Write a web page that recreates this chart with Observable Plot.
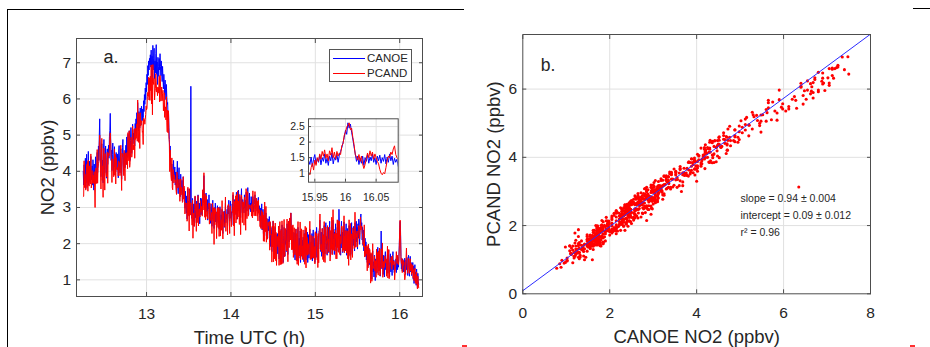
<!DOCTYPE html>
<html>
<head>
<meta charset="utf-8">
<script src="https://cdn.jsdelivr.net/npm/d3@7"></script>
<script src="https://cdn.jsdelivr.net/npm/@observablehq/plot@0.6"></script>
<style>
  body { margin: 0; background: #fff; }
  #wrap { position: relative; width: 930px; height: 347px; overflow: hidden; background: #fff;
          font-family: "Liberation Sans", Arial, Helvetica, sans-serif; }
</style>
</head>
<body>
<div id="wrap"></div>
<script>
// ---------------- data ----------------
const startHour = 12.25;     // first sample, UTC hour
const stepHour = 0.005;      // sampling interval, hours
// NO2 in ppbv x 100
const canoeCenti = [
400,362,418,371,395,436,352,389,447,368,410,381,455,362,402,428,371,395,441,376,
388,415,362,432,395,348,420,386,365,440,402,378,425,452,396,418,470,430,498,545,
462,418,385,440,476,402,431,368,452,488,415,396,442,470,405,381,437,462,419,448,
472,436,495,512,560,488,430,458,402,446,478,421,390,445,468,412,436,399,452,427,
405,448,423,382,456,471,418,396,440,462,412,378,431,465,488,420,402,451,436,410,
448,472,420,495,465,438,502,478,445,512,468,430,485,521,472,450,498,530,476,505,
488,515,470,532,505,545,498,562,528,590,548,512,565,538,520,575,552,528,580,560,
540,572,548,595,565,612,585,630,598,645,620,668,640,692,665,705,680,712,695,722,
688,735,662,718,645,748,680,712,740,655,705,672,725,750,668,702,640,715,690,662,
712,680,725,690,664,705,672,648,690,655,628,668,640,612,652,625,598,640,605,585,
590,548,565,520,488,452,470,425,410,388,420,392,368,405,430,378,395,412,362,398,
372,345,395,428,360,338,382,410,352,368,330,392,356,342,375,318,360,385,336,352,
322,298,345,310,285,332,268,305,352,290,318,276,338,302,284,635,312,270,296,325,
285,262,310,248,295,330,272,305,258,318,290,268,335,298,276,312,255,302,326,280,
298,325,280,342,312,355,388,332,295,318,276,340,305,288,322,265,310,296,335,282,
302,275,256,310,288,248,295,320,268,285,242,298,276,312,260,288,245,272,305,266,
258,285,240,272,302,255,238,280,266,295,248,228,275,262,290,245,270,312,258,282,
268,295,250,305,282,320,275,262,298,318,270,288,252,310,292,335,278,300,265,322,
295,318,280,342,305,268,325,290,348,312,285,330,298,272,315,352,300,285,322,296,
310,285,335,298,320,275,342,308,290,325,355,302,280,318,340,295,312,288,330,305,
315,298,330,305,288,322,310,335,296,318,302,325,290,312,300,328,285,305,278,262,
298,245,282,310,238,265,295,228,275,250,302,235,258,285,222,270,248,215,268,236,
240,275,205,258,192,245,222,178,238,198,262,185,228,170,215,245,175,225,162,205,
228,172,210,248,158,195,235,150,205,240,168,252,198,178,148,222,245,185,165,232,
198,238,178,255,215,170,242,262,205,248,270,232,285,250,208,245,185,232,175,215,
230,175,155,218,240,168,205,152,225,245,180,160,215,172,235,148,200,228,165,210,
165,218,182,150,228,172,238,190,155,215,170,232,148,195,225,160,205,240,175,158,
205,165,228,152,182,238,160,215,178,148,230,190,162,245,205,172,155,222,185,235,
245,265,205,178,232,165,215,242,175,225,160,250,195,172,235,258,185,220,168,240,
195,245,175,228,262,185,165,235,200,250,172,222,265,190,240,170,232,192,255,180,
228,178,245,195,258,215,295,248,182,225,168,240,262,188,232,175,245,200,260,185,
238,180,222,255,168,210,242,175,228,162,250,198,178,235,170,225,258,185,165,230,
195,248,210,180,258,225,192,262,205,245,185,255,215,268,240,198,258,270,282,245,
258,210,245,195,238,180,225,172,215,165,205,155,190,148,182,138,172,188,142,170,
155,115,172,130,102,162,180,122,150,108,168,140,98,158,128,175,118,148,190,132,
162,125,175,140,110,155,235,168,130,182,145,115,168,138,108,160,178,128,155,120,
150,170,118,158,182,130,108,152,172,122,165,138,112,160,178,128,155,120,142,128,
138,158,120,150,165,128,155,135,165,195,238,262,232,165,130,155,125,158,135,122,
152,122,160,132,115,155,128,162,135,112,158,168,128,110,150,165,122,148,112,140,
130,148,102,138,90,125,142,98,122,85,130,102,78,118,95,88
];
const pcandCenti = [
330,331,429,355,392,384,348,395,419,355,427,345,431,364,359,415,368,365,448,354,
362,402,367,390,387,366,399,356,300,385,409,366,400,460,367,408,421,427,475,500,
464,395,351,432,491,375,415,328,450,464,407,348,449,440,393,385,399,453,367,435,
450,443,459,496,506,481,444,432,369,430,434,422,385,387,461,390,447,365,438,425,
404,404,411,387,429,421,424,388,410,472,394,347,450,441,446,415,388,458,407,374,
449,451,418,444,452,407,507,449,429,512,411,424,449,494,483,439,452,525,459,472,
460,517,436,519,488,493,492,531,483,597,524,480,560,523,463,562,525,532,536,540,
508,510,474,547,545,542,530,544,557,581,570,574,606,618,607,660,597,658,596,663,
623,694,586,660,556,695,649,640,657,597,618,628,670,644,619,633,609,632,632,616,
662,592,665,647,594,611,633,595,615,624,567,590,617,549,570,578,542,606,536,509,
569,506,567,495,480,399,459,429,384,374,437,355,349,405,385,368,390,381,373,375,
347,336,398,386,354,357,363,378,351,317,341,379,335,356,348,314,317,385,323,359,
333,282,313,309,312,309,262,269,356,278,316,235,352,282,279,313,281,273,251,320,
215,279,285,248,257,332,296,288,234,310,258,278,333,249,280,296,277,274,319,287,
303,289,276,349,293,312,396,328,273,337,266,312,332,275,290,269,301,312,312,254,
312,266,264,270,286,228,312,301,263,299,198,300,252,297,283,287,214,283,299,247,
244,301,220,275,297,221,248,266,237,319,242,213,288,263,247,251,260,329,234,279,
282,279,224,305,309,298,269,228,305,304,271,247,271,289,286,342,249,301,222,317,
283,332,257,336,267,274,346,274,318,304,253,336,298,225,317,334,319,258,316,302,
314,251,328,308,301,237,352,306,269,344,341,276,308,303,307,297,303,305,307,276,
310,271,346,293,292,277,308,344,277,308,326,293,276,317,263,321,287,281,294,247,
277,242,292,275,240,288,281,207,279,206,315,232,243,303,204,269,212,225,259,250,
256,261,182,261,224,227,219,149,249,191,263,150,248,158,214,257,153,231,140,207,
220,195,191,248,140,205,261,142,184,237,143,263,204,145,160,212,267,164,168,242,
209,207,180,268,202,150,258,262,189,271,261,210,285,239,183,250,184,252,162,191,
244,172,169,184,241,153,228,143,223,261,140,170,195,166,260,155,172,241,167,194,
156,238,165,160,227,143,248,182,133,244,169,217,168,200,186,171,199,262,156,163,
223,157,203,161,215,221,160,184,192,144,233,155,186,228,205,189,134,228,147,235,
236,282,187,182,198,177,242,228,156,223,150,261,201,148,242,246,211,197,171,250,
206,213,178,242,246,152,186,237,184,273,169,201,294,183,213,180,228,214,237,158,
228,158,266,189,264,176,233,262,170,221,200,213,249,201,199,178,249,182,277,175,
221,181,236,224,174,236,231,158,234,140,266,197,167,256,155,227,222,197,162,244,
213,235,186,187,287,209,190,228,218,235,191,216,236,250,238,213,231,273,238,244,
249,230,224,198,204,191,252,163,193,166,178,172,197,125,192,133,199,167,146,184,
169,91,175,150,96,130,200,131,137,140,165,124,137,153,107,185,121,173,176,113,
180,125,188,111,118,141,186,158,133,202,107,128,151,134,141,166,151,147,158,110,
142,193,105,168,184,103,126,146,149,157,164,129,134,167,141,141,152,149,100,120,
135,150,178,160,145,168,150,142,155,185,245,265,220,155,145,160,120,145,155,140,
150,118,100,108,140,160,188,145,130,118,155,160,132,118,150,158,125,145,115,142,
120,140,105,128,98,122,132,92,115,88,122,98,75,110,90,78
];
// zoomed window shown in the inset (finer sampling), ppbv x 100
const insetStartHour = 15.94;
const insetStepHour = 0.002;
const insetCanoeCenti = [
140,128,152,122,145,160,130,148,135,158,127,150,138,162,132,148,125,155,140,165,
130,150,142,160,135,158,170,182,198,215,238,225,262,245,258,232,210,185,162,138,
155,128,148,132,155,125,150,138,160,132,152,140,162,135,150,128,155,140,158,132,
150,138,160,130,152,135,162,140,155,128,148,135,145,122
];
const insetPcandCenti = [
100,95,118,132,110,142,125,150,138,162,145,170,155,175,148,162,140,172,158,182,
150,168,145,170,155,165,160,188,195,222,232,248,255,262,240,245,215,192,160,152,
142,160,138,155,130,115,128,148,165,150,172,155,168,145,162,150,138,130,112,100,
95,102,98,118,140,155,150,168,160,178,188,160,150,145
];
const seriesNames = ["CANOE", "PCAND"];
const seriesColors = ["#0000ff", "#ff0000"];
const fitSlope = 0.94, fitIntercept = 0.09;
const fitText = ["slope = 0.94 \u00b1 0.004", "intercept = 0.09 \u00b1 0.012", "r\u00b2 = 0.96"];
const panelLabels = ["a.", "b."];
const axisTitles = ["Time UTC (h)", "NO2 (ppbv)", "CANOE NO2 (ppbv)", "PCAND NO2 (ppbv)"];
const xTicksA = [13, 14, 15, 16];
const yTicksA = [1, 2, 3, 4, 5, 6, 7];
const xDomainA = [12.17, 16.27], yDomainA = [0.54, 7.67];
const xTicksInset = [15.95, 16, 16.05];
const yTicksInset = [1, 1.5, 2, 2.5];
const xDomainInset = [15.9397, 16.086], yDomainInset = [0.71, 2.75];
const xTicksB = [0, 2, 4, 6, 8];
const yTicksB = [0, 2, 4, 6];
const xDomainB = [0, 8], yDomainB = [0, 7.6];

// ---------------- build ----------------
const n = Math.min(canoeCenti.length, pcandCenti.length);
const rows = d3.range(n).map(i => ({
  t: startHour + i * stepHour,
  canoe: canoeCenti[i] / 100,
  pcand: pcandCenti[i] / 100
}));
const ni = Math.min(insetCanoeCenti.length, insetPcandCenti.length);
const insetRows = d3.range(ni).map(i => ({
  t: insetStartHour + i * insetStepHour,
  canoe: insetCanoeCenti[i] / 100,
  pcand: insetPcandCenti[i] / 100
}));

const fontFamily = '"Liberation Sans", Arial, Helvetica, sans-serif';
const txt = "#262626", frameCol = "#4d4d4d", gridCol = "#e1e1e1";
const wrap = document.getElementById("wrap");
function place(el, left, top) {
  el.style.position = "absolute"; el.style.left = left + "px"; el.style.top = top + "px";
  wrap.appendChild(el); return el;
}
const fmt = d => String(d);
const blank = () => "";

// panel a
const panelA = Plot.plot({
  width: 465, height: 347,
  marginLeft: 76, marginRight: 43, marginTop: 38, marginBottom: 51,
  style: {fontFamily, fontSize: "15.5px", color: txt, background: "transparent", overflow: "visible"},
  x: {domain: xDomainA},
  y: {domain: yDomainA},
  marks: [
    Plot.gridX(xTicksA, {stroke: gridCol, strokeOpacity: 1}),
    Plot.gridY(yTicksA, {stroke: gridCol, strokeOpacity: 1}),
    Plot.line(rows, {x: "t", y: "canoe", stroke: seriesColors[0], strokeWidth: 1}),
    Plot.line(rows, {x: "t", y: "pcand", stroke: seriesColors[1], strokeWidth: 1}),
    Plot.frame({stroke: frameCol}),
    Plot.axisX(xTicksA, {anchor: "bottom", tickSize: -4, tickPadding: 15.7, label: null, stroke: frameCol, tickFormat: fmt}),
    Plot.axisX(xTicksA, {anchor: "top", tickSize: -4, label: null, stroke: frameCol, tickFormat: blank}),
    Plot.axisY(yTicksA, {anchor: "left", tickSize: -4, tickPadding: 9.3, label: null, stroke: frameCol, tickFormat: fmt}),
    Plot.axisY(yTicksA, {anchor: "right", tickSize: -4, label: null, stroke: frameCol, tickFormat: blank}),
    Plot.text([panelLabels[0]], {text: d => d, frameAnchor: "top-left", dx: 27, dy: 11.8, lineAnchor: "top", textAnchor: "start", fontSize: 18, fill: txt}),
    Plot.text([axisTitles[0]], {text: d => d, frameAnchor: "bottom", dy: 41.6, lineAnchor: "middle", textAnchor: "middle", fontSize: 18.5, fill: txt}),
    Plot.text([axisTitles[1]], {text: d => d, frameAnchor: "left", dx: -28.6, rotate: -90, lineAnchor: "middle", textAnchor: "middle", fontSize: 18.5, fill: txt})
  ]
});
place(panelA, 0, 0);

// inset
const inset = Plot.plot({
  width: 135, height: 100,
  marginLeft: 38, marginRight: 7.3, marginTop: 13.3, marginBottom: 23.3,
  style: {fontFamily, fontSize: "10.5px", color: txt, background: "transparent", overflow: "visible"},
  x: {domain: xDomainInset},
  y: {domain: yDomainInset},
  marks: [
    Plot.frame({fill: "white", stroke: null}),
    Plot.gridX(xTicksInset, {stroke: gridCol, strokeOpacity: 1}),
    Plot.gridY(yTicksInset, {stroke: gridCol, strokeOpacity: 1}),
    Plot.line(insetRows, {x: "t", y: "canoe", stroke: seriesColors[0], strokeWidth: 1, clip: true}),
    Plot.line(insetRows, {x: "t", y: "pcand", stroke: seriesColors[1], strokeWidth: 1, clip: true}),
    Plot.frame({stroke: frameCol}),
    Plot.axisX(xTicksInset, {anchor: "bottom", tickSize: -3, tickPadding: 14.3, label: null, stroke: frameCol, tickFormat: fmt}),
    Plot.axisY(yTicksInset, {anchor: "left", tickSize: -3, tickPadding: 6.7, label: null, stroke: frameCol, tickFormat: fmt})
  ]
});
place(inset, 270, 105);

// legend (panel a)
const legend = document.createElement("div");
legend.style.cssText = "width:83px;height:33px;border:1px solid #555;background:#fff;box-sizing:border-box;";
seriesNames.forEach((name, i) => {
  const row = document.createElement("div");
  row.style.cssText = `position:absolute;left:0;top:${i * 15}px;height:16px;width:82px;display:flex;align-items:center;`;
  row.innerHTML = `<svg width="37" height="16" style="flex:none"><line x1="3" x2="35" y1="8.5" y2="8.5" stroke="${seriesColors[i]}" stroke-width="1"/></svg>` +
    `<span style="font-size:11.5px;color:${txt};line-height:16px">${name}</span>`;
  legend.appendChild(row);
});
place(legend, 329, 49);

// panel b
const panelB = Plot.plot({
  width: 465, height: 347,
  marginLeft: 57.3, marginRight: 60, marginTop: 34, marginBottom: 53.7,
  style: {fontFamily, fontSize: "15.5px", color: txt, background: "transparent", overflow: "visible"},
  x: {domain: xDomainB},
  y: {domain: yDomainB},
  marks: [
    Plot.gridX(xTicksB.slice(1, -1), {stroke: gridCol, strokeOpacity: 1}),
    Plot.gridY(yTicksB.slice(1), {stroke: gridCol, strokeOpacity: 1}),
    Plot.dot(rows, {x: "canoe", y: "pcand", r: 1.55, fill: seriesColors[1], stroke: null}),
    Plot.line(xDomainB, {x: d => d, y: d => fitIntercept + fitSlope * d, stroke: "#2b2bff", strokeWidth: 1, clip: true}),
    Plot.frame({stroke: frameCol}),
    Plot.axisX(xTicksB, {anchor: "bottom", tickSize: -4, tickPadding: 17.4, label: null, stroke: frameCol, tickFormat: fmt}),
    Plot.axisX(xTicksB, {anchor: "top", tickSize: -4, label: null, stroke: frameCol, tickFormat: blank}),
    Plot.axisY(yTicksB, {anchor: "left", tickSize: -4, tickPadding: 9.6, label: null, stroke: frameCol, tickFormat: fmt}),
    Plot.axisY(yTicksB, {anchor: "right", tickSize: -4, label: null, stroke: frameCol, tickFormat: blank}),
    Plot.text([panelLabels[1]], {text: d => d, frameAnchor: "top-left", dx: 18, dy: 23.8, lineAnchor: "top", textAnchor: "start", fontSize: 17.5, fill: txt}),
    Plot.text([fitText.join("\n")], {text: d => d, frameAnchor: "top-left", dx: 217.7, dy: 155.3, lineAnchor: "top", textAnchor: "start", lineHeight: 1.62, fontSize: 10.5, fill: txt}),
    Plot.text([axisTitles[2]], {text: d => d, frameAnchor: "bottom", dy: 43.3, lineAnchor: "middle", textAnchor: "middle", fontSize: 18.5, fill: txt}),
    Plot.text([axisTitles[3]], {text: d => d, frameAnchor: "left", dx: -28.3, rotate: -90, lineAnchor: "middle", textAnchor: "middle", fontSize: 18.5, fill: txt})
  ]
});
place(panelB, 465, 0);

// page frame remnants seen in the figure
function bar(left, top, w, h, color) {
  const d = document.createElement("div");
  d.style.cssText = `width:${w}px;height:${h}px;background:${color};`;
  place(d, left, top);
}
bar(7, 9, 457, 1, "#000");
bar(7, 9, 1, 338, "#000");
bar(913, 8, 17, 1, "#000");
bar(462, 345, 5, 1.5, "#ff3030");
bar(910, 345, 5, 1.5, "#ff3030");
</script>
</body>
</html>
